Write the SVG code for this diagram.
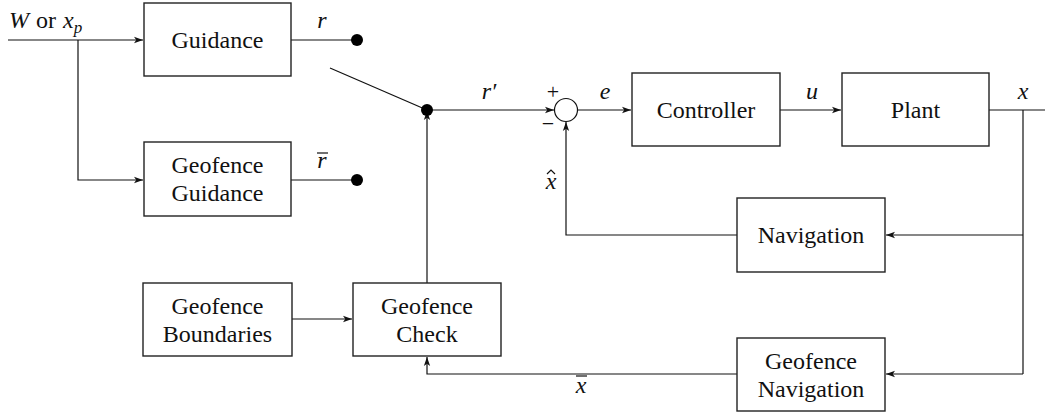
<svg xmlns="http://www.w3.org/2000/svg" width="1045" height="413" viewBox="0 0 1045 413">
<defs>
<marker id="ar" viewBox="0 0 10 10" refX="10" refY="5" markerWidth="9" markerHeight="9" markerUnits="userSpaceOnUse" orient="auto">
<path d="M0,1.5 L10,5 L0,8.5 L2.5,5 Z" fill="#111"/>
</marker>
</defs>
<rect width="1045" height="413" fill="#fff"/>
<g id="connectors">
<g fill="none" stroke="#111" stroke-width="1.2">
<path d="M8,40 H143" marker-end="url(#ar)"/>
<path d="M78,40 V180 H143" marker-end="url(#ar)"/>
<path d="M291,40 H357"/>
<path d="M291,180 H357"/>
<path d="M330,68 L427,110"/>
<path d="M427,110 H554" marker-end="url(#ar)"/>
<path d="M578,110 H631" marker-end="url(#ar)"/>
<path d="M780,110 H841" marker-end="url(#ar)"/>
<path d="M989,110 H1045"/>
<path d="M1023,110 V374"/>
<path d="M1023,235 H886" marker-end="url(#ar)"/>
<path d="M1023,374 H886" marker-end="url(#ar)"/>
<path d="M737,235 H566 V122" marker-end="url(#ar)"/>
<path d="M292,319 H352" marker-end="url(#ar)"/>
<path d="M427,283 V111" marker-end="url(#ar)"/>
<path d="M737,374 H427 V357" marker-end="url(#ar)"/>
<path d="M317,153 H328"/>
<path d="M547,174 L551,170 L555,174"/>
<path d="M576,376 H587"/>
</g>
<g fill="#000">
<circle cx="357" cy="40" r="6"/>
<circle cx="357" cy="180" r="6"/>
<circle cx="427" cy="110" r="6"/>
</g>
<g font-family="Liberation Serif" font-size="24" fill="#111" text-anchor="middle" font-style="italic">
<text x="9" y="28" text-anchor="start"><tspan>W</tspan><tspan font-style="normal" dx="7">or</tspan><tspan dx="7">x</tspan><tspan dy="5" font-size="17">p</tspan></text>
<text x="322" y="28">r</text>
<text x="322" y="168">r</text>
<text x="489" y="99">r′</text>
<text x="553" y="99" font-size="22" font-style="normal">+</text>
<text x="548" y="131" font-size="22" font-style="normal">−</text>
<text x="605" y="99">e</text>
<text x="812" y="99">u</text>
<text x="1023" y="99">x</text>
<text x="551" y="189">x</text>
<text x="581" y="393">x</text>
</g>
</g>
<g id="summer"><circle cx="566" cy="110" r="11.5" fill="#fff" stroke="#111" stroke-width="1.2"/></g>
<g font-family="Liberation Serif" font-size="24" fill="#111" text-anchor="middle">
<g fill="#fff" stroke="#222" stroke-width="1.4">
<rect id="guidance-box" x="144" y="3" width="147" height="73"/>
<rect id="geofence-guidance-box" x="144" y="142" width="147" height="74"/>
<rect id="controller-box" x="632" y="73" width="148" height="73"/>
<rect id="plant-box" x="842" y="73" width="147" height="73"/>
<rect id="navigation-box" x="737" y="198" width="148" height="74"/>
<rect id="geofence-navigation-box" x="737" y="338" width="148" height="73"/>
<rect id="geofence-boundaries-box" x="143" y="283" width="149" height="73"/>
<rect id="geofence-check-box" x="353" y="283" width="148" height="73"/>
</g>
<g id="guidance"><text x="217.5" y="48">Guidance</text></g>
<g id="geofence-guidance"><text x="217.5" y="173">Geofence</text><text x="217.5" y="201">Guidance</text></g>
<g id="controller"><text x="706" y="118">Controller</text></g>
<g id="plant"><text x="915.5" y="118">Plant</text></g>
<g id="navigation"><text x="811" y="243">Navigation</text></g>
<g id="geofence-navigation"><text x="811" y="369">Geofence</text><text x="811" y="397">Navigation</text></g>
<g id="geofence-boundaries"><text x="217.5" y="314">Geofence</text><text x="217.5" y="342">Boundaries</text></g>
<g id="geofence-check"><text x="427" y="314">Geofence</text><text x="427" y="342">Check</text></g>
</g>
</svg>
